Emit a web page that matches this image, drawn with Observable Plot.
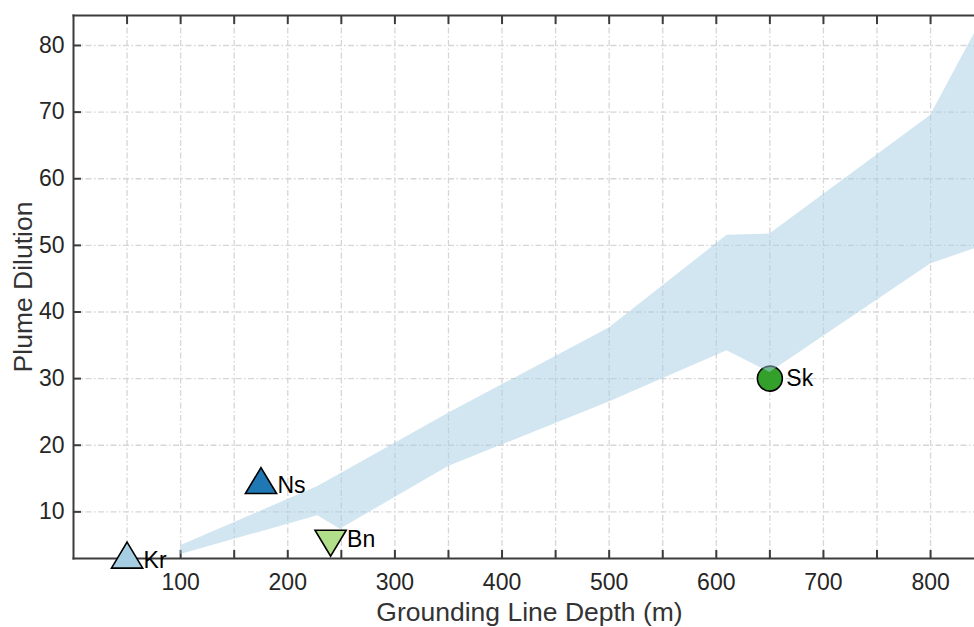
<!DOCTYPE html>
<html><head><meta charset="utf-8">
<script src="https://cdn.jsdelivr.net/npm/d3@7"></script>
<script src="https://cdn.jsdelivr.net/npm/@observablehq/plot@0.6"></script>
<style>html,body{margin:0;padding:0;background:#fff;overflow:hidden}</style>
</head><body><div id="chart"></div>
<script>
// Modelled dilution envelope vs grounding line depth
const bandDepth = [100, 228, 249, 350, 500, 610, 650, 800, 850];
const bandUpper = [4.9, 13.8, 15.7, 24.8, 37.6, 51.5, 51.7, 69.5, 84.5];
const bandLower = [3.6, 9.4, 7.4, 16.8, 26.5, 34.2, 30.9, 47.2, 50.0];

// Observed glaciers
const glacierNames = ["Kr", "Ns", "Bn", "Sk"];
const glacierDepth = [50, 175, 240, 650];
const glacierDilution = [3.5, 14.7, 5.3, 30];
const glacierColors = ["#a6cee3", "#1f78b4", "#b2df8a", "#33a02c"];
const glacierShapes = ["up", "up", "down", "circle"];

// Ticks
const xMajorTicks = [100, 200, 300, 400, 500, 600, 700, 800];
const xMinorTicks = [50, 100, 150, 200, 250, 300, 350, 400, 450, 500, 550, 600, 650, 700, 750, 800];
const yTicks = [10, 20, 30, 40, 50, 60, 70, 80];

const band = bandDepth.map((d, i) => ({depth: d, upper: bandUpper[i], lower: bandLower[i]}));
const glaciers = glacierNames.map((n, i) => ({name: n, depth: glacierDepth[i], dilution: glacierDilution[i], color: glacierColors[i], shape: glacierShapes[i]}));

const triUp = {draw(ctx, size) { const r = Math.sqrt(size / Math.PI); const w = r * 1.2, h = r; ctx.moveTo(0, -h); ctx.lineTo(w, h); ctx.lineTo(-w, h); ctx.closePath(); }};
const triDown = {draw(ctx, size) { const r = Math.sqrt(size / Math.PI); const w = r * 1.2, h = r; ctx.moveTo(0, h); ctx.lineTo(w, -h); ctx.lineTo(-w, -h); ctx.closePath(); }};
const circ = {draw(ctx, size) { const r = Math.sqrt(size / Math.PI) * 0.96; ctx.moveTo(r, 0); ctx.arc(0, 0, r, 0, 2 * Math.PI); }};
const symbolFor = {up: triUp, down: triDown, circle: circ};
// label vertical nudges (px) for each marker
const labelNudge = {up: 5, down: -4, circle: 0};

const axisColor = "#3c3c3c";
const textColor = "#262626";
const gridStyle = {stroke: "#d6d6d6", strokeOpacity: 1, strokeWidth: 1.3, strokeDasharray: "6,2.5,1.5,2.5"};

const dotMarks = ["up", "down", "circle"].map(s =>
  Plot.dot(glaciers.filter(d => d.shape === s), {
    x: "depth", y: "dilution", fill: "color", stroke: "black", strokeWidth: 1.6,
    r: 13, symbol: symbolFor[s]
  })
);
const labelMarks = ["up", "down", "circle"].map(s =>
  Plot.text(glaciers.filter(d => d.shape === s), {
    x: "depth", y: "dilution", text: "name", dx: 16.5, dy: labelNudge[s],
    textAnchor: "start", fontSize: 23, fill: "black"
  })
);

const chart = Plot.plot({
  width: 974,
  height: 627,
  marginLeft: 73,
  marginRight: 0,
  marginTop: 15,
  marginBottom: 69,
  style: {fontFamily: "'Liberation Sans', Arial, Helvetica, sans-serif", background: "white", overflow: "visible"},
  x: {domain: [0, 841], label: null},
  y: {domain: [3, 84.5], label: null},
  color: {type: "identity"},
  marks: [
    Plot.gridX(xMinorTicks, gridStyle),
    Plot.gridY(yTicks, gridStyle),
    Plot.frame({anchor: "left", stroke: axisColor, strokeWidth: 2}),
    Plot.frame({anchor: "bottom", stroke: axisColor, strokeWidth: 2}),
    Plot.frame({anchor: "top", stroke: axisColor, strokeWidth: 2}),
    Plot.axisX(xMinorTicks, {anchor: "bottom", tickSize: -8, tickFormat: () => "", label: null, stroke: axisColor, strokeWidth: 2}),
    Plot.axisX(xMinorTicks, {anchor: "top", tickSize: -8, tickFormat: () => "", label: null, stroke: axisColor, strokeWidth: 2}),
    Plot.axisX(xMajorTicks, {anchor: "bottom", tickSize: 0, tickPadding: 15, label: null, fontSize: 23, fill: textColor}),
    Plot.axisY(yTicks, {anchor: "left", tickSize: -8, tickFormat: () => "", label: null, stroke: axisColor, strokeWidth: 2}),
    Plot.axisY(yTicks, {anchor: "left", tickSize: 0, tickPadding: 9, label: null, fontSize: 23, fill: textColor}),
    ...dotMarks,
    Plot.areaY(band, {x: "depth", y1: "lower", y2: "upper", fill: "#a6cee3", fillOpacity: 0.5, clip: true}),
    ...labelMarks,
    Plot.text(["Grounding Line Depth (m)"], {frameAnchor: "bottom", textAnchor: "middle", lineAnchor: "middle", dx: 5.5, dy: 54.5, fontSize: 26.5, fill: "#333"}),
    Plot.text(["Plume Dilution"], {frameAnchor: "left", textAnchor: "middle", lineAnchor: "middle", rotate: -90, dx: -49.5, fontSize: 26.5, fill: "#333"})
  ]
});
document.getElementById("chart").appendChild(chart);
</script>
</body></html>
